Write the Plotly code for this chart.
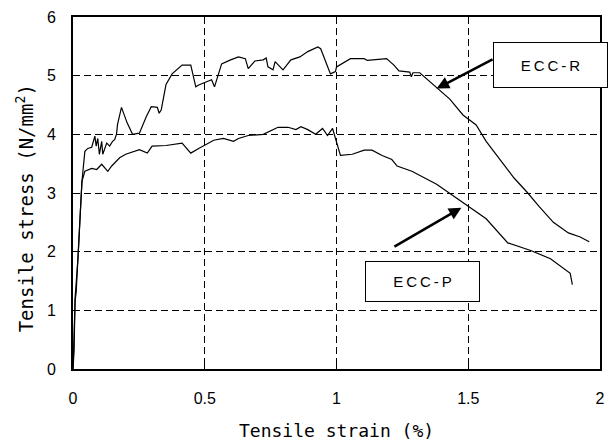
import plotly.graph_objects as go

# ECC-R specimen: tensile strain (%) vs tensile stress (N/mm2)
ecc_r_strain = [0.0, 0.003, 0.008, 0.012, 0.019, 0.027, 0.034, 0.040, 0.045, 0.056,
                0.071, 0.083, 0.088, 0.094, 0.100, 0.109, 0.113, 0.128, 0.139, 0.150,
                0.158, 0.165, 0.169, 0.184, 0.205, 0.226, 0.252, 0.278, 0.297, 0.320,
                0.327, 0.335, 0.353, 0.376, 0.414, 0.447, 0.466, 0.477, 0.526, 0.537,
                0.564, 0.598, 0.628, 0.654, 0.665, 0.690, 0.722, 0.733, 0.740, 0.759,
                0.767, 0.797, 0.827, 0.861, 0.891, 0.929, 0.940, 0.977, 0.996, 1.000,
                1.053, 1.105, 1.117, 1.190, 1.218, 1.237, 1.278, 1.284, 1.290, 1.316,
                1.380, 1.430, 1.480, 1.530, 1.568, 1.617, 1.673, 1.726, 1.767, 1.823,
                1.880, 1.925, 1.959]
ecc_r_stress = [0.0, 0.37, 1.17, 1.30, 2.00, 2.60, 3.20, 3.45, 3.71, 3.76,
                3.78, 3.97, 3.80, 3.93, 3.66, 3.88, 3.66, 3.85, 3.80, 3.88,
                3.91, 4.00, 4.17, 4.46, 4.20, 4.00, 4.02, 4.30, 4.47, 4.46,
                4.36, 4.42, 4.85, 5.03, 5.18, 5.18, 4.81, 4.84, 4.93, 4.81,
                5.20, 5.27, 5.32, 5.29, 5.12, 5.25, 5.27, 5.30, 5.15, 5.10,
                5.24, 5.10, 5.27, 5.32, 5.41, 5.49, 5.46, 5.03, 5.07, 5.15,
                5.29, 5.29, 5.26, 5.29, 5.18, 5.08, 5.06, 4.98, 5.05, 5.05,
                4.80, 4.60, 4.33, 4.16, 3.88, 3.60, 3.26, 3.00, 2.78, 2.50,
                2.32, 2.25, 2.17]

# ECC-P specimen
ecc_p_strain = [0.0, 0.004, 0.008, 0.019, 0.030, 0.034, 0.045, 0.071, 0.090, 0.109,
                0.132, 0.147, 0.177, 0.200, 0.252, 0.282, 0.300, 0.353, 0.414, 0.447,
                0.477, 0.515, 0.534, 0.571, 0.609, 0.628, 0.665, 0.722, 0.778, 0.816,
                0.846, 0.865, 0.891, 0.921, 0.947, 0.966, 0.985, 1.015, 1.060, 1.105,
                1.135, 1.173, 1.210, 1.230, 1.286, 1.380, 1.474, 1.568, 1.650, 1.737,
                1.812, 1.887, 1.895]
ecc_p_stress = [0.0, 0.30, 1.22, 1.90, 2.86, 3.20, 3.37, 3.42, 3.40, 3.49,
                3.37, 3.46, 3.60, 3.66, 3.74, 3.68, 3.80, 3.81, 3.85, 3.68,
                3.76, 3.85, 3.90, 3.93, 3.88, 3.93, 3.98, 4.00, 4.12, 4.12,
                4.08, 4.13, 4.08, 4.00, 4.10, 3.98, 4.10, 3.64, 3.66, 3.73,
                3.73, 3.64, 3.57, 3.46, 3.37, 3.15, 2.86, 2.56, 2.15, 2.02,
                1.88, 1.63, 1.44]

x_tick_vals = [0, 0.5, 1, 1.5, 2]
x_tick_text = ["0", "0.5", "1", "1.5", "2"]
y_tick_vals = [0, 1, 2, 3, 4, 5, 6]

label_r = "ECC-R"
label_p = "ECC-P"

mono = "DejaVu Sans Mono"
sans = "Liberation Sans"

fig = go.Figure()
for xs, ys in [(ecc_r_strain, ecc_r_stress), (ecc_p_strain, ecc_p_stress)]:
    fig.add_trace(go.Scatter(x=xs, y=ys, mode="lines",
                             line=dict(color="black", width=1.2),
                             showlegend=False, hoverinfo="skip"))

axis_common = dict(
    showline=True, linecolor="black", linewidth=1.6, mirror=True,
    ticks="inside", ticklen=5, tickcolor="black",
    showgrid=True, gridcolor="black", gridwidth=1, griddash="7px,4px",
    zeroline=False, tickfont=dict(family=sans, size=16, color="black"),
)

fig.update_xaxes(range=[0, 2], tickvals=x_tick_vals, ticktext=x_tick_text,
                 ticklabelstandoff=14, **axis_common)
fig.update_yaxes(range=[0, 6], tickvals=y_tick_vals,
                 ticklabelstandoff=12, **axis_common)


def spaced(s):
    return "\u2009".join(s)


# Axis titles
fig.add_annotation(xref="paper", yref="paper", x=0.5, y=-0.175,
                   text="Tensile strain (%)", showarrow=False,
                   font=dict(family=mono, size=18, color="black"),
                   xanchor="center", yanchor="middle")
fig.add_annotation(xref="paper", yref="paper", x=-0.092, y=0.455,
                   text="Tensile stress (N/mm<sup>2</sup>)", showarrow=False,
                   textangle=-90,
                   font=dict(family=mono, size=19, color="black"),
                   xanchor="center", yanchor="middle")

# Arrows pointing at each curve
fig.add_annotation(x=1.38, y=4.78, ax=1.598, ay=5.29, xref="x", yref="y",
                   axref="x", ayref="y", text="", showarrow=True,
                   arrowhead=2, arrowsize=1, arrowwidth=2.5, arrowcolor="black")
fig.add_annotation(x=1.474, y=2.75, ax=1.214, ay=2.07, xref="x", yref="y",
                   axref="x", ayref="y", text="", showarrow=True,
                   arrowhead=2, arrowsize=1, arrowwidth=2.5, arrowcolor="black")

# Label boxes
fig.add_annotation(x=1.812, y=5.18, xref="x", yref="y", text=spaced(label_r),
                   showarrow=False, width=113, height=44, borderpad=0,
                   bordercolor="black", borderwidth=1, bgcolor="white",
                   font=dict(family=sans, size=15, color="black"),
                   xanchor="center", yanchor="middle")
fig.add_annotation(x=1.326, y=1.49, xref="x", yref="y", text=spaced(label_p),
                   showarrow=False, width=113, height=39, borderpad=0,
                   bordercolor="black", borderwidth=1, bgcolor="white",
                   font=dict(family=sans, size=15, color="black"),
                   xanchor="center", yanchor="middle")

fig.update_layout(
    width=614, height=448,
    margin=dict(l=73, r=9, t=15, b=79),
    paper_bgcolor="white", plot_bgcolor="white",
)

fig.write_html("out.html")
